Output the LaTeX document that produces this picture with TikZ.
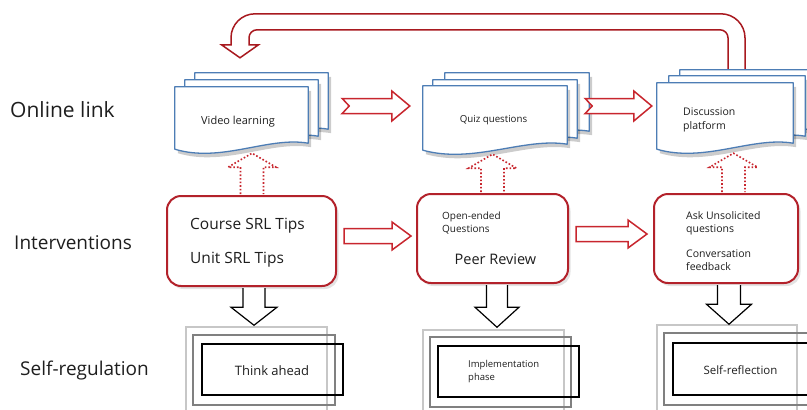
\documentclass[tikz,border=0pt]{standalone}
\usepackage{fontspec}
\setmainfont{Open Sans}
\usetikzlibrary{calc,shadows}

\definecolor{docblue}{HTML}{4D7DB5}
\definecolor{ivred}{HTML}{B3222B}
\definecolor{arrred}{HTML}{C8262E}
\definecolor{fbred}{HTML}{A8191F}
\definecolor{txt}{HTML}{1E1E1E}

% One sheet of a document stack: #1 frame node, #2/#3 offset of the sheet
\newcommand\docpage[3]{%
  \fill[sheetshadow] let \p1=($(#1.north west)+({#2+3},{#3+4})$),
      \p2=($(#1.south east)+({#2+3},{#3+4})$), \n1={\x2-\x1} in
    (\x1,\y1) -- (\x2,\y1) -- (\x2,{\y2+6pt})
    .. controls ({\x2-0.3*\n1},{\y2+13pt}) and ({\x1+0.35*\n1},{\y2-14pt}) .. (\x1,\y2) -- cycle;
  \filldraw[sheet] let \p1=($(#1.north west)+(#2,#3)$),
      \p2=($(#1.south east)+(#2,#3)$), \n1={\x2-\x1} in
    (\x1,\y1) -- (\x2,\y1) -- (\x2,{\y2+6pt})
    .. controls ({\x2-0.3*\n1},{\y2+13pt}) and ({\x1+0.35*\n1},{\y2-14pt}) .. (\x1,\y2) -- cycle;
}

% Horizontal block arrow: #1 style, #2 tail point, #3 tip point,
% #4 shaft half width, #5 head half width, #6 head length, #7 tail notch
\newcommand\harrow[7]{%
  \draw[#1] let \p1=#2, \p2=#3 in
    (\x1,{\y1+#4}) -- ({\x2-#6},{\y1+#4}) -- ({\x2-#6},{\y1+#5}) -- (\x2,\y1)
    -- ({\x2-#6},{\y1-#5}) -- ({\x2-#6},{\y1-#4}) -- (\x1,{\y1-#4}) -- ({\x1+#7},\y1) -- cycle;
}

% Vertical block arrow, open at its tail: #1 style, #2 tail point, #3 tip point,
% #4 shaft half width, #5 head half width, #6 signed head length
\newcommand\varrow[6]{%
  \filldraw[#1] let \p1=#2, \p2=#3 in
    ({\x1-#4},\y1) -- ({\x1-#4},{\y2-(#6)}) -- ({\x1-#5},{\y2-(#6)}) -- (\x1,\y2)
    -- ({\x1+#5},{\y2-(#6)}) -- ({\x1+#4},{\y2-(#6)}) -- ({\x1+#4},\y1);
}

\begin{document}
\begin{tikzpicture}[x=1pt,y=-1pt,
  sheet/.style={fill=white,draw=docblue,line width=1.3pt,line join=round},
  sheetshadow/.style={fill=black,opacity=0.2},
  docframe/.style={rectangle,inner sep=0pt,draw=none},
  ivbox/.style={rectangle,rounded corners=14pt,draw=ivred,line width=2pt,fill=white,
    inner sep=0pt,drop shadow={shadow xshift=2.5pt,shadow yshift=-3pt,opacity=0.22}},
  hollow/.style={draw=arrred,line width=1.5pt,fill=white,line join=miter},
  dotarrow/.style={draw=arrred,line width=1.6pt,dotted,fill=white},
  downarrow/.style={draw=black,line width=1.2pt,fill=white,line join=miter},
  fbarrow/.style={draw=fbred,line width=1.5pt,fill=white},
  srlight/.style={rectangle,draw=black!22,line width=1.5pt,inner sep=0pt},
  srmid/.style={rectangle,draw=black!50,line width=1.8pt,inner sep=0pt},
  srdark/.style={rectangle,draw=black,line width=1.5pt,inner sep=0pt},
  rowlabel/.style={anchor=west,text=txt,inner sep=0pt,font=\fontsize{19}{22}\selectfont},
  plain/.style={text=txt,inner sep=0pt},
]
\useasboundingbox (0,0) rectangle (807,410);

% ---- row labels
\node[rowlabel,font=\fontsize{21}{24}\selectfont] (lonline) at (10,110) {Online link};
\node[rowlabel] (linterv) at (14,243) {Interventions};
\node[rowlabel] (lselfreg) at (20,371) {Self-regulation};

% ---- document frames (front sheets)
\node[docframe,minimum width=133pt,minimum height=62pt] (vid) at (241.5,118) {};
\node[docframe,minimum width=144pt,minimum height=64pt] (quiz) at (495,118) {};
\node[docframe,minimum width=136pt,minimum height=66pt] (disc) at (725,116) {};

% ---- return arrow from the discussion platform back to video learning
\coordinate (fbA) at ($(disc.north)+(11.5,-11)$);
\coordinate (fbB) at ($(vid.north)+(-1.5,-29)$);
\draw[fbarrow] let \p1=(fbA), \p2=(fbB) in
  ({\x1+8.5pt},\y1) -- ({\x1+8.5pt},{\y2+20pt})
  arc[start angle=0,end angle=90,radius=24pt]
  -- ({\x2+15pt},{\y2+44pt})
  arc[start angle=90,end angle=180,radius=24pt]
  -- ({\x2-9pt},{\y2+13pt}) -- ({\x2-18.5pt},{\y2+13pt}) -- (\x2,\y2)
  -- ({\x2+18.5pt},{\y2+13pt}) -- ({\x2+9pt},{\y2+13pt}) -- ({\x2+9pt},{\y2+20pt})
  arc[start angle=180,end angle=90,radius=8pt]
  -- ({\x1-16.5pt},{\y2+28pt})
  arc[start angle=90,end angle=0,radius=8pt]
  -- ({\x1-8.5pt},\y1) -- cycle;

% ---- document stacks
\docpage{vid}{20}{-14}\docpage{vid}{10}{-7}\docpage{vid}{0}{0}
\docpage{quiz}{22}{-13}\docpage{quiz}{10}{-6}\docpage{quiz}{0}{0}
\docpage{disc}{23}{-13}\docpage{disc}{12}{-7}\docpage{disc}{0}{0}

\node[plain,font=\fontsize{11}{13}\selectfont] (vidtxt) at (238,122) {Video learning};
\node[plain,font=\fontsize{9.7}{12}\selectfont] (quiztxt) at (493.5,120) {Quiz questions};
\node[plain,anchor=west,align=left,font=\fontsize{10.5}{14}\selectfont] (disctxt) at (683,120) {Discussion\\platform};

% ---- arrows between the documents
\harrow{hollow}{($(vid.east)+(34,-12)$)}{($(quiz.west)+(-13,-12)$)}{7.5pt}{15pt}{18pt}{7pt}
\harrow{hollow}{($(quiz.east)+(18,-12)$)}{($(disc.west)+(-5,-10)$)}{7.5pt}{15pt}{18pt}{7pt}

% ---- interventions
\node[ivbox,minimum width=169pt,minimum height=90pt] (course) at (251.5,241) {};
\node[ivbox,minimum width=151pt,minimum height=89pt] (peer) at (492.5,238.5) {};
\node[ivbox,minimum width=144pt,minimum height=89pt] (ask) at (726,238.5) {};

\node[plain,anchor=west,font=\fontsize{15.5}{18}\selectfont] (coursetxt) at (190,226) {Course SRL Tips};
\node[plain,anchor=west,font=\fontsize{15.5}{18}\selectfont] (unittxt) at (190,260) {Unit SRL Tips};
\node[plain,anchor=west,align=left,font=\fontsize{10}{13}\selectfont] (opentxt) at (442,223.5) {Open-ended\\Questions};
\node[plain,font=\fontsize{14.5}{17}\selectfont] (peertxt) at (495.5,259) {Peer Review};
\node[plain,anchor=west,align=left,font=\fontsize{10.5}{13}\selectfont] (asktxt) at (686,223.5) {Ask Unsolicited\\questions};
\node[plain,anchor=west,align=left,font=\fontsize{10.5}{13}\selectfont] (convtxt) at (686,260) {Conversation\\feedback};

% ---- intervention arrows up to the online links (dotted)
\varrow{dotarrow}{($(course.north)+(0.5,-1)$)}{($(vid.south)+(0,4)$)}{11.5pt}{24pt}{14pt}
\varrow{dotarrow}{($(peer.north)+(0,-1)$)}{($(quiz.south)+(0,4)$)}{11.5pt}{24pt}{14pt}
\varrow{dotarrow}{($(ask.north)+(7.5,-1)$)}{($(disc.south)+(0,4)$)}{11.5pt}{24pt}{14pt}

% ---- arrows between the interventions
\harrow{hollow}{($(course.east)+(7,-5)$)}{($(peer.west)+(-5,-2.5)$)}{7.5pt}{14pt}{19pt}{0pt}
\harrow{hollow}{($(peer.east)+(7,-4.5)$)}{($(ask.west)+(-6,-4.5)$)}{7.5pt}{14pt}{19pt}{0pt}

% ---- self-regulation phases (three stacked frames each)
\node[srlight,minimum width=141pt,minimum height=87pt] (sra1) at (256.5,370.5) {};
\node[srmid,minimum width=142pt,minimum height=70pt] (srb1) at (264,370) {};
\node[srdark,minimum width=141pt,minimum height=51pt] (src1) at (272.5,369.5) {};
\node[srlight,minimum width=141pt,minimum height=84pt] (sra2) at (493.5,372) {};
\node[srmid,minimum width=141pt,minimum height=70pt] (srb2) at (500.5,372) {};
\node[srdark,minimum width=141pt,minimum height=51pt] (src2) at (508.5,371.5) {};
\node[srlight,minimum width=140pt,minimum height=89pt] (sra3) at (727,369.5) {};
\node[srmid,minimum width=150pt,minimum height=72pt] (srb3) at (739,369) {};
\node[srdark,minimum width=143pt,minimum height=52pt] (src3) at (744.5,369) {};

\node[plain,font=\fontsize{13}{15}\selectfont] (thinktxt) at (272,371) {Think ahead};
\node[plain,anchor=west,align=left,font=\fontsize{9.5}{13}\selectfont] (impltxt) at (468,371.5) {Implementation\\phase};
\node[plain,font=\fontsize{11.5}{14}\selectfont] (refltxt) at (740.5,370) {Self-reflection};

% ---- interventions down to the self-regulation phases
\varrow{downarrow}{($(course.south)+(2.5,1.2)$)}{($(sra1.north)+(0,-1)$)}{11pt}{23pt}{-18pt}
\varrow{downarrow}{($(peer.south)+(4.5,1.2)$)}{($(sra2.north)+(0,-2)$)}{10.5pt}{22pt}{-20pt}
\varrow{downarrow}{($(ask.south)+(3,1.2)$)}{(sra3.north)}{11.5pt}{22.5pt}{-20pt}

\end{tikzpicture}
\end{document}
